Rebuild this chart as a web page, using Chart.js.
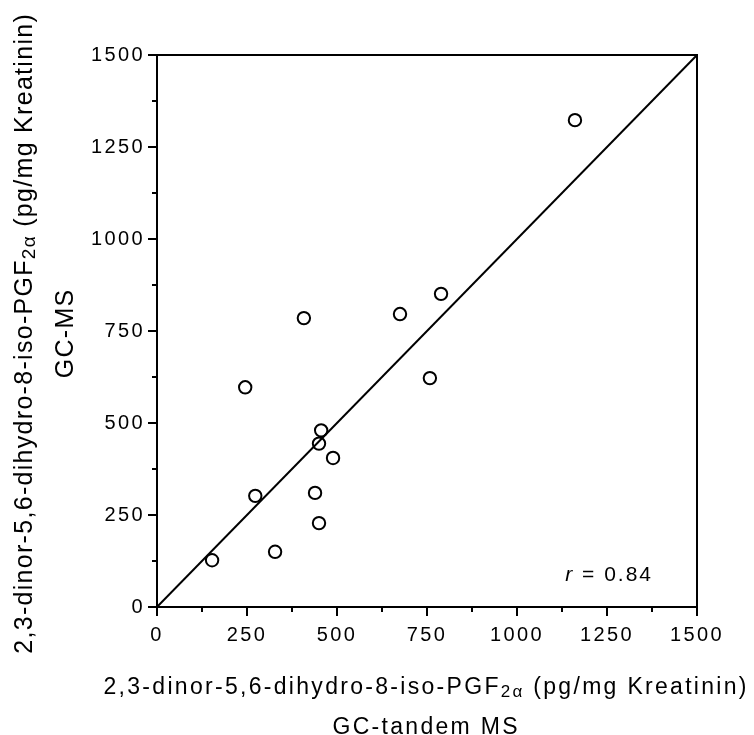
<!DOCTYPE html>
<html>
<head>
<meta charset="utf-8">
<script src="https://cdn.jsdelivr.net/npm/chart.js@4"></script>
<style>
  body { margin: 0; background: #fff; }
  #wrap { width: 754px; height: 735px; }
</style>
</head>
<body>
<div id="wrap"><canvas id="scatter" width="754" height="735"></canvas></div>
<script>
// values (pg/mg Kreatinin)
const gcTandemMS = [153, 245, 273, 328, 408, 439, 450, 450, 456, 489, 675, 758, 789, 1161];
const gcMS       = [127, 597, 302, 150, 785, 310, 444, 228, 480, 405, 796, 622, 851, 1323];
const identityLine = [0, 1500];
const axisMin = 0, axisMax = 1500, majorStep = 250, minorStep = 125;
const corrLabel = ['r', ' = 0.84'];
const xTitle = [['2,3-dinor-5,6-dihydro-8-iso-PGF', '2α', ' (pg/mg Kreatinin)'], 'GC-tandem MS'];
const yTitle = [['2,3-dinor-5,6-dihydro-8-iso-PGF', '2α', ' (pg/mg Kreatinin)'], 'GC-MS'];

const FONT = '"Liberation Sans", Arial, sans-serif';

// draw a line of text where the middle part is a subscript
function drawRich(ctx, parts, x, y, size, spacing) {
  const subSize = Math.round(size * 0.74);
  ctx.letterSpacing = spacing + 'px';
  const widths = parts.map((p, i) => {
    ctx.font = (i === 1 ? subSize : size) + 'px ' + FONT;
    return ctx.measureText(p).width;
  });
  const total = widths.reduce((a, b) => a + b, 0) - spacing;
  let cx = x - total / 2;
  ctx.textAlign = 'left';
  ctx.textBaseline = 'alphabetic';
  parts.forEach((p, i) => {
    ctx.font = (i === 1 ? subSize : size) + 'px ' + FONT;
    ctx.fillText(p, cx, i === 1 ? y + size * 0.12 : y);
    cx += widths[i];
  });
}

function drawCentered(ctx, text, x, y, size, spacing) {
  ctx.letterSpacing = spacing + 'px';
  ctx.font = size + 'px ' + FONT;
  const w = ctx.measureText(text).width - spacing;
  ctx.textAlign = 'left';
  ctx.textBaseline = 'alphabetic';
  ctx.fillText(text, x - w / 2, y);
}

const framePlugin = {
  id: 'frame',
  beforeDraw(chart) {
    chart.ctx.letterSpacing = '2.4px';
  },
  beforeDatasetsDraw(chart) {
    const { ctx, chartArea: a, scales } = chart;
    ctx.save();
    ctx.strokeStyle = '#000';
    ctx.lineWidth = 2;
    ctx.strokeRect(a.left, a.top, a.right - a.left, a.bottom - a.top);
    ctx.beginPath();
    for (let v = axisMin; v <= axisMax; v += minorStep) {
      const len = v % majorStep === 0 ? 9 : 5;
      const px = scales.x.getPixelForValue(v);
      ctx.moveTo(px, a.bottom);
      ctx.lineTo(px, a.bottom + len);
      const py = scales.y.getPixelForValue(v);
      ctx.moveTo(a.left, py);
      ctx.lineTo(a.left - len, py);
    }
    ctx.stroke();
    ctx.restore();
  },
  afterDraw(chart) {
    const { ctx, chartArea: a } = chart;
    ctx.save();
    ctx.fillStyle = '#000';
    const midX = (a.left + a.right) / 2;
    const midY = (a.top + a.bottom) / 2 + 3;
    // x axis title
    drawRich(ctx, xTitle[0], midX - 2, a.bottom + 87, 23, 2.3);
    drawCentered(ctx, xTitle[1], midX - 2, a.bottom + 127, 23, 2.3);
    // y axis title
    ctx.save();
    ctx.translate(32, midY);
    ctx.rotate(-Math.PI / 2);
    drawRich(ctx, yTitle[0], 0, 0, 25, 1.3);
    ctx.restore();
    ctx.save();
    ctx.translate(73, midY);
    ctx.rotate(-Math.PI / 2);
    drawCentered(ctx, yTitle[1], 0, 0, 25, 1.3);
    ctx.restore();
    // correlation label
    ctx.letterSpacing = '2px';
    ctx.textBaseline = 'alphabetic';
    ctx.textAlign = 'left';
    ctx.font = '21px ' + FONT;
    const rest = ctx.measureText(corrLabel[1]).width;
    ctx.font = 'italic 21px ' + FONT;
    const rw = ctx.measureText(corrLabel[0]).width;
    const x0 = a.right - 44 - rw - rest;
    ctx.fillText(corrLabel[0], x0, a.bottom - 26);
    ctx.font = '21px ' + FONT;
    ctx.fillText(corrLabel[1], x0 + rw, a.bottom - 26);
    ctx.restore();
    ctx.letterSpacing = '0px';
  }
};

const tickFont = { family: FONT, size: 20 };
const plainNumber = v => String(v);

new Chart(document.getElementById('scatter'), {
  type: 'scatter',
  data: {
    datasets: [
      {
        label: 'samples',
        data: gcTandemMS.map((x, i) => ({ x: x, y: gcMS[i] })),
        pointStyle: 'circle',
        pointRadius: 6.2,
        pointHoverRadius: 6.2,
        pointBorderWidth: 2,
        pointBorderColor: '#000',
        pointBackgroundColor: 'rgba(255,255,255,0)'
      },
      {
        type: 'line',
        label: 'identity',
        data: identityLine.map(v => ({ x: v, y: v })),
        borderColor: '#000',
        borderWidth: 2,
        pointRadius: 0,
        fill: false
      }
    ]
  },
  options: {
    responsive: false,
    animation: false,
    events: [],
    layout: { padding: { top: 55, right: 57, left: 0, bottom: 0 } },
    plugins: { legend: { display: false }, tooltip: { enabled: false } },
    scales: {
      x: {
        type: 'linear', min: axisMin, max: axisMax,
        grid: { display: false, drawTicks: false },
        border: { display: false },
        ticks: { stepSize: majorStep, color: '#000', font: tickFont, padding: 16, maxRotation: 0, callback: plainNumber },
        afterFit: s => { s.height = 128; }
      },
      y: {
        type: 'linear', min: axisMin, max: axisMax,
        grid: { display: false, drawTicks: false },
        border: { display: false },
        ticks: { stepSize: majorStep, color: '#000', font: tickFont, padding: 12, callback: plainNumber },
        afterFit: s => { s.width = 157; }
      }
    }
  },
  plugins: [framePlugin]
});
</script>
</body>
</html>
